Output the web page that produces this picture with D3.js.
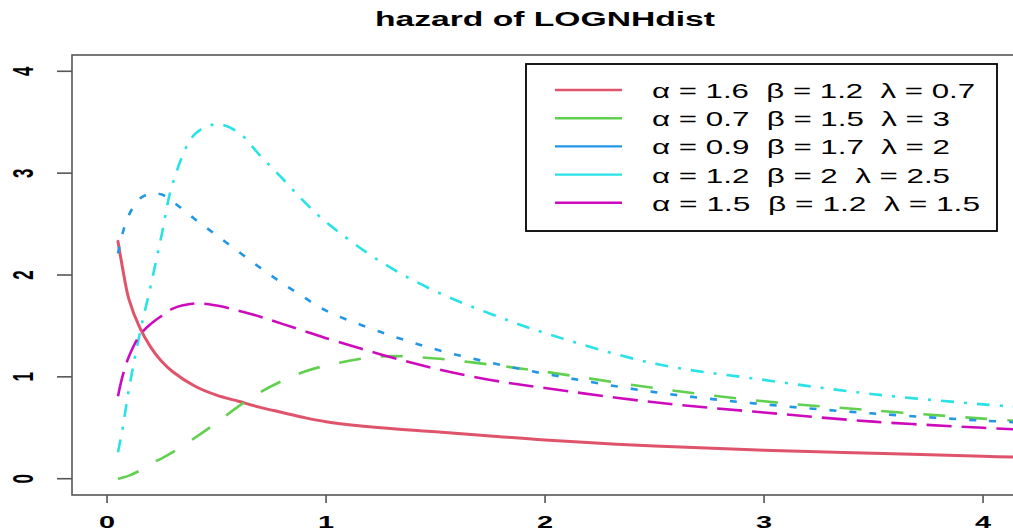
<!DOCTYPE html>
<html>
<head>
<meta charset="utf-8">
<script src="https://cdn.jsdelivr.net/npm/d3@7"></script>
<style>
  html, body { margin: 0; padding: 0; background: #ffffff; }
  svg { display: block; }
  text { font-family: "Liberation Sans", Arial, Helvetica, sans-serif; }
</style>
</head>
<body>
<svg id="chart" width="1013" height="532"></svg>
<script>
"use strict";

const xValues = [0.05, 0.07, 0.1, 0.15, 0.2, 0.25, 0.3, 0.4, 0.5, 0.6, 0.7, 0.8, 0.9, 1,
  1.25, 1.5, 1.75, 2, 2.5, 3, 3.5, 4, 4.2];

// hazard values of each parameter set (same order as xValues)
const hazard1 = [2.33, 2.08, 1.76, 1.48, 1.29, 1.15, 1.05, 0.91, 0.82, 0.76, 0.70, 0.65, 0.60, 0.56,
  0.50, 0.46, 0.42, 0.38, 0.32, 0.28, 0.25, 0.22, 0.21];
const hazard2 = [0.00, 0.01, 0.03, 0.08, 0.15, 0.20, 0.26, 0.40, 0.55, 0.71, 0.85, 0.96, 1.05, 1.11,
  1.20, 1.18, 1.12, 1.05, 0.89, 0.76, 0.67, 0.59, 0.56];
const hazard3 = [2.21, 2.40, 2.59, 2.75, 2.80, 2.79, 2.72, 2.55, 2.39, 2.23, 2.07, 1.92, 1.78, 1.65,
  1.44, 1.27, 1.14, 1.03, 0.85, 0.73, 0.64, 0.57, 0.55];
const hazard4 = [0.26, 0.48, 0.88, 1.43, 1.90, 2.40, 2.90, 3.38, 3.48, 3.40, 3.17, 2.95, 2.72, 2.52,
  2.13, 1.84, 1.62, 1.43, 1.13, 0.97, 0.83, 0.73, 0.70];
const hazard5 = [0.81, 1.00, 1.20, 1.41, 1.52, 1.60, 1.67, 1.72, 1.70, 1.65, 1.59, 1.52, 1.45, 1.38,
  1.22, 1.08, 0.97, 0.89, 0.75, 0.65, 0.56, 0.50, 0.48];

const legendLabels = [
  "α = 1.6  β = 1.2  λ = 0.7",
  "α = 0.7  β = 1.5  λ = 3",
  "α = 0.9  β = 1.7  λ = 2",
  "α = 1.2  β = 2  λ = 2.5",
  "α = 1.5  β = 1.2  λ = 1.5"
];
const xTicks = [0, 1, 2, 3, 4];
const yTicks = [0, 1, 2, 3, 4];

// R 4.x default palette, line types 1..5
const colors = ["#DF536B", "#61D04F", "#2297E6", "#28E2E5", "#CD0BBC"];
const dashes = [null, "22,20", "7,13", "13,10,3,10", "25,10"];
const legendWidths = [323, 298, 298, 298, 328];

const series = [hazard1, hazard2, hazard3, hazard4, hazard5].map((ys, i) => ({
  label: legendLabels[i],
  color: colors[i],
  dash: dashes[i],
  points: xValues.map((x, j) => ({ x: x, y: ys[j] }))
}));

const svg = d3.select("#chart");

// plot region (right side runs past the window edge)
const box = { left: 72, top: 55, right: 1024, bottom: 495 };

const x = d3.scaleLinear().domain([-0.16, 4.187]).range([box.left, box.right]);
const y = d3.scaleLinear().domain([-0.16, 4.16]).range([box.bottom, box.top]);

svg.append("defs").append("clipPath").attr("id", "plotClip")
  .append("rect")
  .attr("x", box.left).attr("y", box.top)
  .attr("width", box.right - box.left).attr("height", box.bottom - box.top);

// title
svg.append("text")
  .attr("x", 545).attr("y", 26)
  .attr("text-anchor", "middle")
  .attr("font-size", 20).attr("font-weight", "bold")
  .attr("textLength", 340).attr("lengthAdjust", "spacingAndGlyphs")
  .text("hazard of LOGNHdist");

// curves
const line = d3.line()
  .x((d) => x(d.x))
  .y((d) => y(d.y))
  .curve(d3.curveCatmullRom.alpha(0.5));

svg.append("g").attr("clip-path", "url(#plotClip)")
  .selectAll("path")
  .data(series)
  .enter()
  .append("path")
  .attr("d", (d) => line(d.points))
  .attr("fill", "none")
  .attr("stroke", (d) => d.color)
  .attr("stroke-width", (d, i) => (i === 0 ? 3 : 2.6))
  .attr("stroke-dasharray", (d) => d.dash)
  .attr("stroke-linecap", (d, i) => (i === 0 ? "round" : "butt"));

// box
svg.append("rect")
  .attr("x", box.left).attr("y", box.top)
  .attr("width", box.right - box.left).attr("height", box.bottom - box.top)
  .attr("fill", "none").attr("stroke", "#555").attr("stroke-width", 1.6);

// x axis (ticks below the box)
const xAxis = svg.append("g");
xAxis.selectAll("line").data(xTicks).enter().append("line")
  .attr("x1", (d) => x(d)).attr("x2", (d) => x(d))
  .attr("y1", box.bottom).attr("y2", box.bottom + 8)
  .attr("stroke", "#555").attr("stroke-width", 1.6);
xAxis.selectAll("text").data(xTicks).enter().append("text")
  .attr("transform", (d) => `translate(${x(d)}, 528) scale(1.7, 1)`)
  .attr("text-anchor", "middle")
  .attr("font-size", 17).attr("font-weight", "bold")
  .text((d) => d);

// y axis, labels parallel to the axis
const yAxis = svg.append("g");
yAxis.selectAll("line").data(yTicks).enter().append("line")
  .attr("x1", box.left - 15).attr("x2", box.left)
  .attr("y1", (d) => y(d)).attr("y2", (d) => y(d))
  .attr("stroke", "#555").attr("stroke-width", 1.6);
yAxis.selectAll("text").data(yTicks).enter().append("text")
  .attr("transform", (d) => `translate(33, ${y(d)}) scale(1.7, 1) rotate(-90)`)
  .attr("text-anchor", "middle")
  .attr("font-size", 17).attr("font-weight", "bold")
  .text((d) => d);

// legend
const legend = svg.append("g");
legend.append("rect")
  .attr("x", 526).attr("y", 64).attr("width", 471).attr("height", 167)
  .attr("fill", "#ffffff").attr("stroke", "#000").attr("stroke-width", 1.8);

const rows = legend.selectAll("g.row")
  .data(series)
  .enter()
  .append("g")
  .attr("class", "row")
  .attr("transform", (d, i) => `translate(0, ${90 + i * 28.2})`);

rows.append("line")
  .attr("x1", 555).attr("x2", 622)
  .attr("stroke", (d) => d.color).attr("stroke-width", 2.4);

rows.append("text")
  .attr("x", 652).attr("y", 8)
  .attr("font-size", 21)
  .attr("textLength", (d, i) => legendWidths[i])
  .attr("lengthAdjust", "spacingAndGlyphs")
  .style("white-space", "pre")
  .text((d) => d.label);
</script>
</body>
</html>
